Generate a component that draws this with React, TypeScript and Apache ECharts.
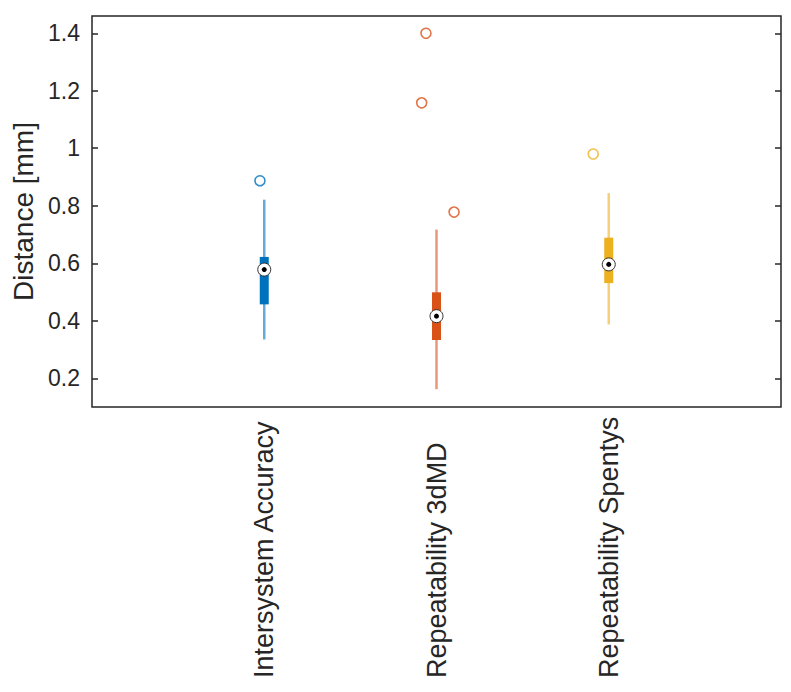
import React, { useEffect, useRef } from "react";
import * as echarts from "echarts";

// Groups shown along the x axis (placed at x = 1, 2, 3)
const categories = ["Intersystem Accuracy", "Repeatability 3dMD", "Repeatability Spentys"];
const colors = ["#0072BD", "#D95319", "#EDB120"];

// Compact box-plot statistics per group, in mm
const whiskerLow = [0.335, 0.162, 0.387];
const q1 = [0.457, 0.333, 0.531];
const median = [0.578, 0.416, 0.596];
const q3 = [0.622, 0.499, 0.689];
const whiskerHigh = [0.821, 0.717, 0.844];

// Outliers (jittered x position, value, group index)
const outlierX = [0.975, 1.939, 1.914, 2.102, 2.91];
const outlierY = [0.887, 1.4, 1.158, 0.778, 0.98];
const outlierGroup = [0, 1, 1, 1, 2];

// Y tick values
const yTicks = [0.2, 0.4, 0.6, 0.8, 1, 1.2, 1.4];

const FONT = "'Liberation Sans', Arial, Helvetica, sans-serif";
const INK = "#262626";

export default function App() {
  const ref = useRef<HTMLDivElement>(null);

  useEffect(() => {
    if (!ref.current) return;
    const chart = echarts.init(ref.current, undefined, { renderer: "svg" });

    const boxData = categories.map((_, i) => [
      i + 1,
      whiskerLow[i],
      q1[i],
      median[i],
      q3[i],
      whiskerHigh[i],
      i,
    ]);

    const outlierData = outlierX.map((x, i) => ({
      value: [x, outlierY[i]],
      itemStyle: { borderColor: colors[outlierGroup[i]], color: "#ffffff" },
    }));

    const renderBox = (params: any, api: any) => {
      const x = api.value(0);
      const g = api.value(6);
      const c = colors[g];
      const pLow = api.coord([x, api.value(1)]);
      const pQ1 = api.coord([x, api.value(2)]);
      const pMed = api.coord([x, api.value(3)]);
      const pQ3 = api.coord([x, api.value(4)]);
      const pHigh = api.coord([x, api.value(5)]);
      const boxW = 9;
      return {
        type: "group",
        children: [
          {
            type: "line",
            shape: { x1: pLow[0], y1: pLow[1], x2: pHigh[0], y2: pHigh[1] },
            style: { stroke: c, lineWidth: 2.5, opacity: 0.6 },
          },
          {
            type: "rect",
            shape: { x: pQ3[0] - boxW / 2, y: pQ3[1], width: boxW, height: pQ1[1] - pQ3[1] },
            style: { fill: c },
          },
          {
            type: "circle",
            shape: { cx: pMed[0], cy: pMed[1], r: 6.5 },
            style: { fill: "#ffffff", stroke: "#333333", lineWidth: 1 },
          },
          {
            type: "circle",
            shape: { cx: pMed[0], cy: pMed[1], r: 2.5 },
            style: { fill: "#000000" },
          },
        ],
      };
    };

    chart.setOption({
      animation: false,
      backgroundColor: "#ffffff",
      grid: {
        left: 92,
        right: 10,
        top: 16,
        height: 391,
        show: true,
        borderColor: INK,
        borderWidth: 1.5,
        backgroundColor: "transparent",
        outerBoundsMode: "none",
        containLabel: false,
      },
      xAxis: {
        type: "value",
        min: 0,
        max: 4,
        interval: 1,
        axisLine: { show: false },
        axisTick: { show: false },
        splitLine: { show: false },
        axisLabel: {
          rotate: 90,
          align: "left",
          margin: 271,
          fontFamily: FONT,
          fontSize: 27,
          color: INK,
          formatter: (v: number) => (v >= 1 && v <= 3 ? categories[v - 1] : ""),
        },
      },
      yAxis: [
        {
          type: "value",
          min: 0.1,
          max: 1.46,
          name: "Distance [mm]",
          nameLocation: "middle",
          nameGap: 55,
          nameTextStyle: { fontFamily: FONT, fontSize: 28, color: INK },
          axisLine: { show: false },
          splitLine: { show: false },
          axisTick: {
            show: true,
            inside: true,
            length: 6,
            customValues: yTicks,
            lineStyle: { color: INK, width: 1.5 },
          },
          axisLabel: {
            customValues: yTicks,
            margin: 12,
            fontFamily: FONT,
            fontSize: 23,
            color: INK,
            formatter: (v: number) => String(Math.round(v * 10) / 10),
          },
        },
        {
          type: "value",
          position: "right",
          min: 0.1,
          max: 1.46,
          axisLine: { show: false },
          splitLine: { show: false },
          axisLabel: { show: false },
          axisTick: {
            show: true,
            inside: true,
            length: 6,
            customValues: yTicks,
            lineStyle: { color: INK, width: 1.5 },
          },
        },
      ],
      series: [
        {
          type: "custom",
          renderItem: renderBox,
          data: boxData,
          encode: { x: 0, y: [1, 5] },
          clip: true,
          z: 2,
        },
        {
          type: "scatter",
          symbol: "circle",
          symbolSize: 10,
          data: outlierData,
          itemStyle: { borderWidth: 1.6 },
          z: 3,
        },
      ],
    });

    return () => chart.dispose();
  }, []);

  return <div ref={ref} style={{ width: 791, height: 692, margin: -8 }} />;
}
